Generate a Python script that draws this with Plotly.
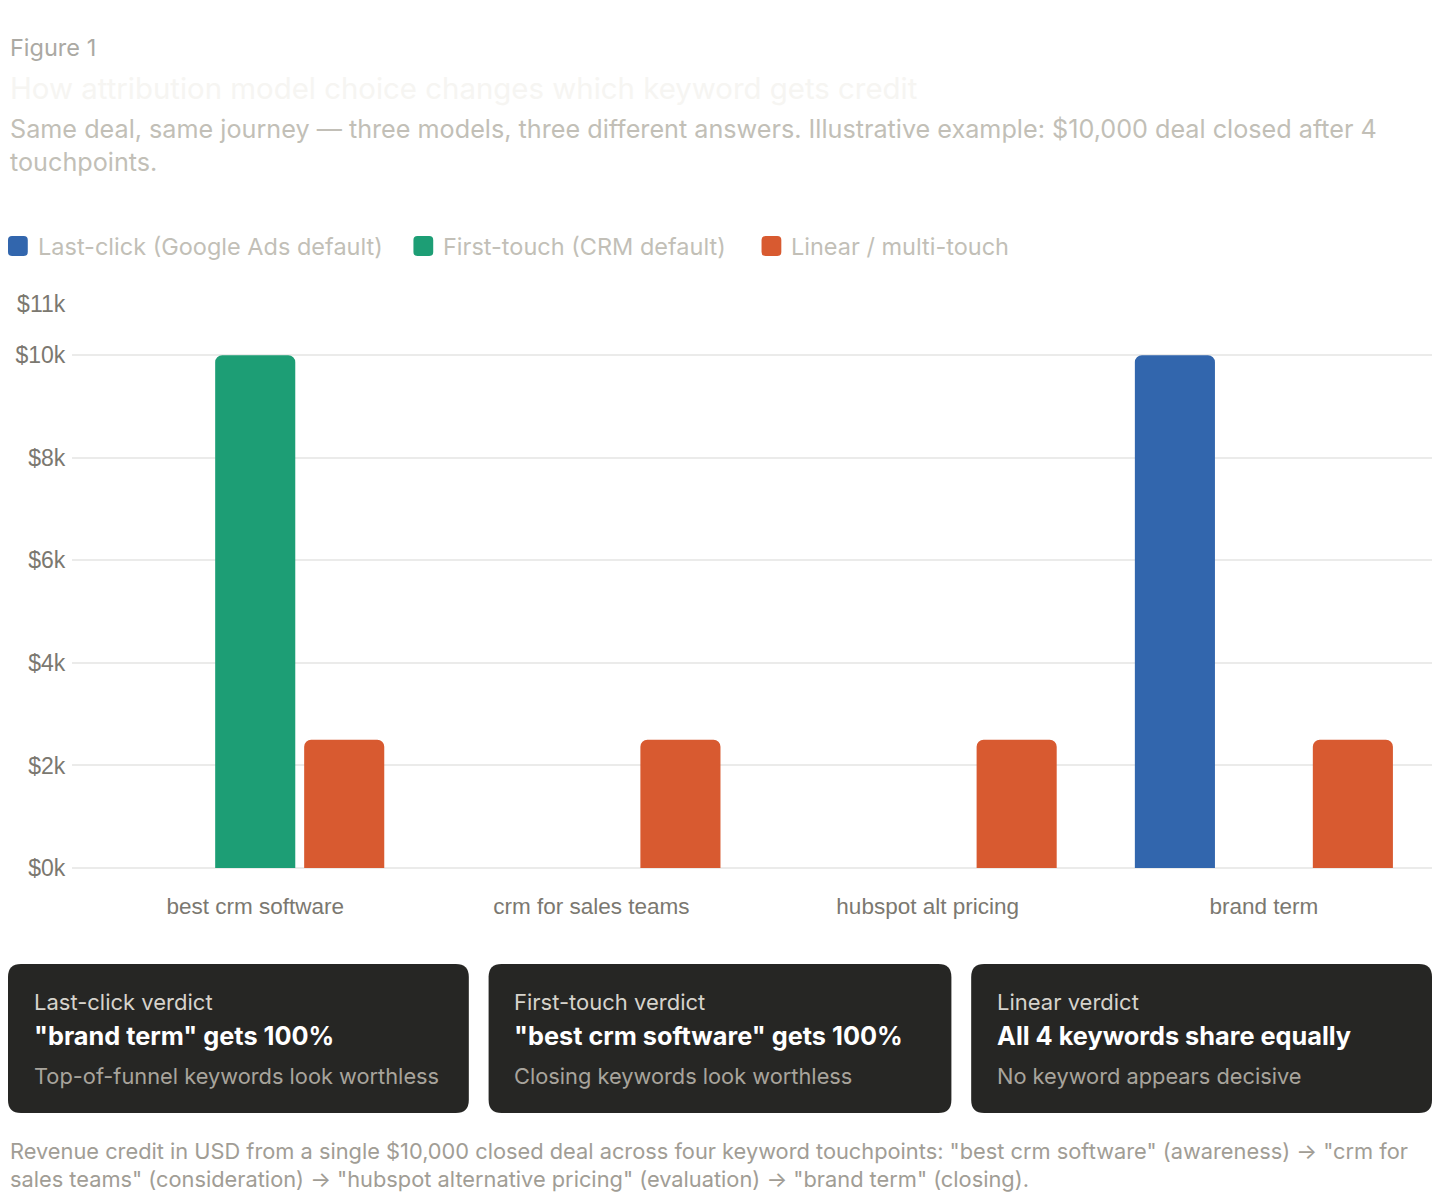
import plotly.graph_objects as go

# page is shown with an 8px body margin, so the figure is a bit smaller than the window
FW, FH = 1424, 1186
REF_W = 1440

keywords = ["best crm software", "crm for sales teams", "hubspot alt pricing", "brand term"]
models = ["Last-click (Google Ads default)", "First-touch (CRM default)", "Linear / multi-touch"]
credit = {
    "Last-click (Google Ads default)": [0, 0, 0, 10000],
    "First-touch (CRM default)": [10000, 0, 0, 0],
    "Linear / multi-touch": [2500, 2500, 2500, 2500],
}
colors = ["#3266AD", "#1D9E75", "#D85A30"]
y_ticks = [0, 2000, 4000, 6000, 8000, 10000, 11000]
y_labels = ["$0k", "$2k", "$4k", "$6k", "$8k", "$10k", "$11k"]

verdict_heads = ["Last-click verdict", "First-touch verdict", "Linear verdict"]
verdict_main = ['"brand term" gets 100%', '"best crm software" gets 100%', "All 4 keywords share equally"]
verdict_note = ["Top-of-funnel keywords look worthless", "Closing keywords look worthless",
                "No keyword appears decisive"]

TEXT_FONT = "Inter, Roboto, sans-serif"
TICK_FONT = "Liberation Sans, Arial, sans-serif"


def px(x):
    return x / REF_W


def py(y):
    return 1 - (y - 8) / FH


def rounded_rect(x0, y0, x1, y1, r):
    # rounded rectangle path in paper coords, corners given in reference pixels
    X = lambda v: f"{px(v):.5f}"
    Y = lambda v: f"{py(v):.5f}"
    rx = r / FW
    ry = r / FH
    return (f"M {px(x0) + rx:.5f},{Y(y0)} L {px(x1) - rx:.5f},{Y(y0)} "
            f"Q {X(x1)},{Y(y0)} {X(x1)},{py(y0) - ry:.5f} L {X(x1)},{py(y1) + ry:.5f} "
            f"Q {X(x1)},{Y(y1)} {px(x1) - rx:.5f},{Y(y1)} L {px(x0) + rx:.5f},{Y(y1)} "
            f"Q {X(x0)},{Y(y1)} {X(x0)},{py(y1) + ry:.5f} L {X(x0)},{py(y0) - ry:.5f} "
            f"Q {X(x0)},{Y(y0)} {px(x0) + rx:.5f},{Y(y0)} Z")


fig = go.Figure()
for name, c in zip(models, colors):
    fig.add_trace(go.Bar(
        x=keywords, y=credit[name], name=name,
        marker=dict(color=c, line=dict(width=0), cornerradius=7),
        hoverinfo="skip", showlegend=False,
    ))

plot_left, plot_right, plot_top, plot_bottom = 65, 1440, 304, 868
slot = 340
first_center = 250
rng = [(plot_left - first_center) / slot, (plot_right - first_center) / slot]

fig.update_layout(
    width=FW, height=FH,
    margin=dict(l=0, r=0, t=0, b=0),
    paper_bgcolor="white", plot_bgcolor="white",
    barmode="group", bargap=0.206, bargroupgap=0.1,
    showlegend=False,
    xaxis=dict(
        domain=[px(plot_left), px(plot_right)], range=rng, automargin=False,
        showgrid=False, zeroline=False, showline=False, ticks="",
        tickfont=dict(family=TICK_FONT, size=22.5, color="#7B7870"),
        ticklabelstandoff=22, fixedrange=True,
    ),
    yaxis=dict(
        domain=[py(plot_bottom), py(plot_top)], range=[0, 11000], automargin=False,
        tickvals=y_ticks, ticktext=y_labels,
        showgrid=True, gridcolor="#EBEBEA", gridwidth=2,
        zeroline=True, zerolinecolor="#EBEBEA", zerolinewidth=2,
        showline=False, ticks="",
        tickfont=dict(family=TICK_FONT, size=23, color="#7B7870"),
        ticklabelstandoff=6, fixedrange=True,
    ),
)

annotations = [
    dict(text="Figure 1", x=0, y=py(48), font=dict(size=23.5, color="#ABA9A3")),
    dict(text="How attribution model choice changes which keyword gets credit", x=0, y=py(88),
         font=dict(size=29.4, color="#F6F5F2")),
    dict(text="Same deal, same journey — three models, three different answers. Illustrative example: "
              "$10,000 deal closed after 4<br>touchpoints.",
         x=0, y=py(146), font=dict(size=25.2, color="#C2BFB7")),
    dict(text='Revenue credit in USD from a single $10,000 closed deal across four keyword touchpoints: '
              '"best crm software" (awareness) → "crm for<br>sales teams" (consideration) → '
              '"hubspot alternative pricing" (evaluation) → "brand term" (closing).',
         x=0, y=py(1165), font=dict(size=21.8, color="#A19D95")),
]

shapes = []

# legend drawn by hand: rounded swatch + label
legend_x = [0, 410, 762]
for lx, name, c in zip(legend_x, models, colors):
    shapes.append(dict(type="path", xref="paper", yref="paper",
                       path=rounded_rect(lx, 236, lx + 20, 256, 4),
                       fillcolor=c, line=dict(width=0)))
    annotations.append(dict(text=name, x=px(lx + 28), y=py(246),
                            font=dict(size=23.5, color="#C2BFB7")))

boxes = [(0, 466), (486, 954), (974, 1440)]
for (bx0, bx1), head, main, note in zip(boxes, verdict_heads, verdict_main, verdict_note):
    shapes.append(dict(type="path", xref="paper", yref="paper",
                       path=rounded_rect(bx0, 964, bx1, 1113, 13),
                       fillcolor="#262624", line=dict(width=0), layer="below"))
    annotations.append(dict(text=head, x=px(bx0 + 24), y=py(1002),
                            font=dict(size=22, color="#D6D3CC")))
    annotations.append(dict(text=f"<b>{main}</b>", x=px(bx0 + 24), y=py(1035),
                            font=dict(size=25.3, color="#FFFFFF")))
    annotations.append(dict(text=note, x=px(bx0 + 24), y=py(1076),
                            font=dict(size=21.8, color="#A8A49C")))

for a in annotations:
    a.update(xref="paper", yref="paper", xanchor="left", yanchor="middle",
             showarrow=False, align="left")
    a["font"]["family"] = TEXT_FONT

fig.update_layout(annotations=annotations, shapes=shapes)

fig.write_html("out.html")
